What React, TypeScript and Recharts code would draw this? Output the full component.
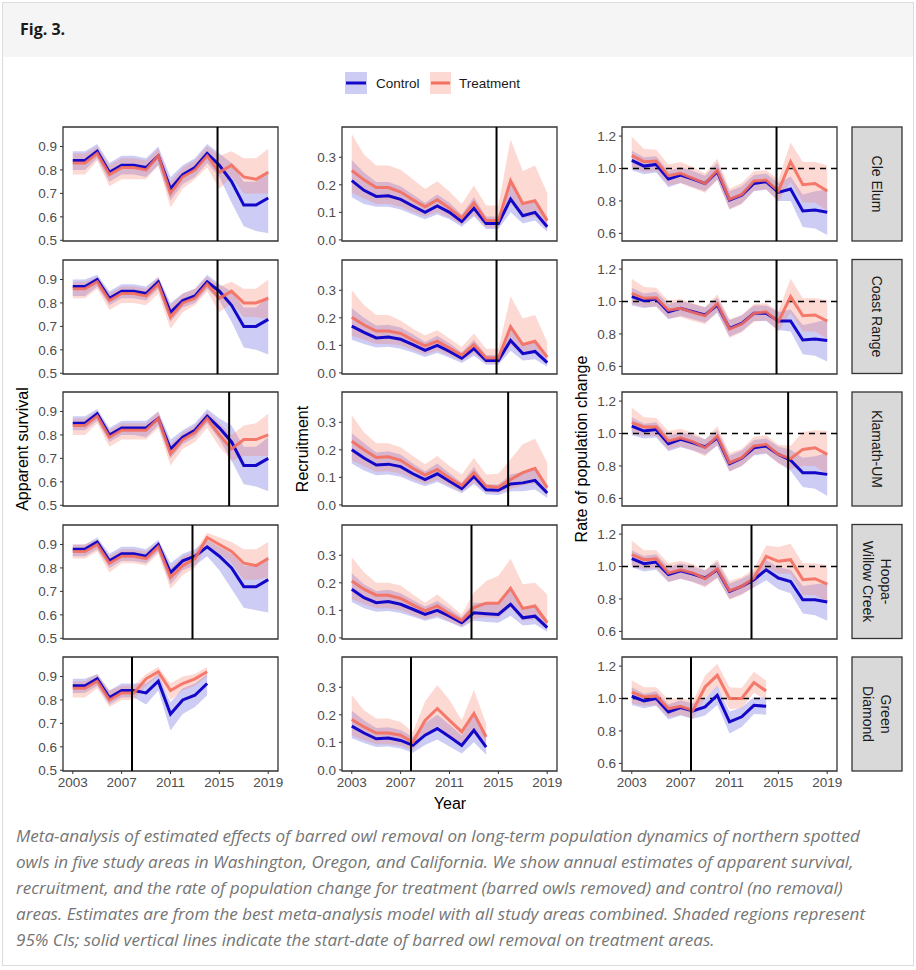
import React from 'react';
import { ComposedChart, Area, Line, XAxis, YAxis, ReferenceLine, ReferenceArea } from 'recharts';

// ---------- categories / labels ----------
const YEARS = [2003, 2004, 2005, 2006, 2007, 2008, 2009, 2010, 2011, 2012, 2013, 2014, 2015, 2016, 2017, 2018, 2019];
const X_TICKS = [2003, 2007, 2011, 2015, 2019];
const SITES = ['Cle Elum', 'Coast Range', 'Klamath-UM', 'Hoopa-\nWillow Creek', 'Green\nDiamond'];
const REMOVAL_START = [2014.85, 2014.85, 2015.8, 2012.8, 2007.85];
const METRIC_TITLES = ['Apparent survival', 'Recruitment', 'Rate of population change'];
const SURV_TICKS = [0.5, 0.6, 0.7, 0.8, 0.9];
const REC_TICKS = [0.0, 0.1, 0.2, 0.3];
const LAMBDA_TICKS = [0.6, 0.8, 1.0, 1.2];
const LEGEND_LABELS = ['Control', 'Treatment'];

// ---------- apparent survival ----------
const ceSurvC = [0.84, 0.84, 0.88, 0.79, 0.82, 0.82, 0.81, 0.86, 0.72, 0.78, 0.81, 0.87, 0.82, 0.75, 0.65, 0.65, 0.68];
const ceSurvCLo = [0.80, 0.80, 0.85, 0.75, 0.78, 0.78, 0.77, 0.82, 0.67, 0.74, 0.77, 0.83, 0.77, 0.66, 0.56, 0.54, 0.53];
const ceSurvCHi = [0.88, 0.88, 0.91, 0.83, 0.86, 0.86, 0.85, 0.90, 0.77, 0.82, 0.85, 0.91, 0.87, 0.83, 0.75, 0.75, 0.80];
const ceSurvT = [0.83, 0.83, 0.87, 0.78, 0.81, 0.81, 0.80, 0.86, 0.70, 0.77, 0.80, 0.86, 0.79, 0.82, 0.77, 0.76, 0.79];
const ceSurvTLo = [0.78, 0.78, 0.84, 0.73, 0.76, 0.76, 0.76, 0.82, 0.64, 0.72, 0.76, 0.81, 0.72, 0.77, 0.70, 0.70, 0.70];
const ceSurvTHi = [0.87, 0.87, 0.90, 0.82, 0.85, 0.85, 0.84, 0.89, 0.75, 0.81, 0.84, 0.90, 0.86, 0.88, 0.85, 0.85, 0.89];

const crSurvC = [0.87, 0.87, 0.90, 0.82, 0.85, 0.85, 0.84, 0.89, 0.76, 0.81, 0.83, 0.89, 0.85, 0.79, 0.70, 0.70, 0.73];
const crSurvCLo = [0.83, 0.83, 0.87, 0.79, 0.82, 0.82, 0.81, 0.86, 0.72, 0.78, 0.80, 0.86, 0.81, 0.72, 0.61, 0.60, 0.58];
const crSurvCHi = [0.90, 0.90, 0.92, 0.85, 0.88, 0.88, 0.87, 0.91, 0.80, 0.84, 0.86, 0.92, 0.88, 0.85, 0.78, 0.78, 0.83];
const crSurvT = [0.86, 0.86, 0.89, 0.81, 0.84, 0.84, 0.83, 0.88, 0.74, 0.80, 0.82, 0.88, 0.82, 0.85, 0.80, 0.80, 0.82];
const crSurvTLo = [0.82, 0.82, 0.86, 0.77, 0.80, 0.80, 0.79, 0.84, 0.69, 0.76, 0.79, 0.85, 0.76, 0.80, 0.74, 0.74, 0.73];
const crSurvTHi = [0.89, 0.89, 0.91, 0.84, 0.87, 0.87, 0.86, 0.91, 0.79, 0.84, 0.86, 0.91, 0.87, 0.89, 0.86, 0.86, 0.90];

const kmSurvC = [0.85, 0.85, 0.89, 0.80, 0.83, 0.83, 0.83, 0.87, 0.74, 0.79, 0.82, 0.88, 0.83, 0.77, 0.67, 0.67, 0.70];
const kmSurvCLo = [0.82, 0.82, 0.86, 0.77, 0.80, 0.80, 0.79, 0.84, 0.70, 0.76, 0.79, 0.85, 0.78, 0.69, 0.59, 0.58, 0.56];
const kmSurvCHi = [0.88, 0.88, 0.91, 0.83, 0.86, 0.86, 0.86, 0.90, 0.78, 0.82, 0.85, 0.91, 0.87, 0.84, 0.75, 0.75, 0.79];
const kmSurvT = [0.84, 0.84, 0.88, 0.79, 0.82, 0.82, 0.82, 0.87, 0.72, 0.78, 0.81, 0.87, 0.80, 0.74, 0.78, 0.78, 0.80];
const kmSurvTLo = [0.80, 0.80, 0.85, 0.75, 0.78, 0.78, 0.78, 0.83, 0.67, 0.74, 0.77, 0.83, 0.75, 0.69, 0.71, 0.71, 0.71];
const kmSurvTHi = [0.87, 0.87, 0.90, 0.82, 0.85, 0.85, 0.85, 0.90, 0.76, 0.81, 0.84, 0.90, 0.85, 0.80, 0.84, 0.85, 0.89];

const hwSurvC = [0.88, 0.88, 0.91, 0.83, 0.86, 0.86, 0.85, 0.90, 0.78, 0.83, 0.85, 0.89, 0.85, 0.80, 0.72, 0.72, 0.75];
const hwSurvCLo = [0.85, 0.85, 0.88, 0.80, 0.83, 0.83, 0.82, 0.87, 0.73, 0.79, 0.81, 0.85, 0.79, 0.71, 0.63, 0.62, 0.61];
const hwSurvCHi = [0.90, 0.90, 0.93, 0.86, 0.89, 0.89, 0.88, 0.92, 0.82, 0.86, 0.88, 0.92, 0.89, 0.86, 0.81, 0.81, 0.85];
const hwSurvT = [0.87, 0.87, 0.90, 0.82, 0.85, 0.85, 0.84, 0.89, 0.76, 0.81, 0.84, 0.93, 0.90, 0.87, 0.82, 0.81, 0.84];
const hwSurvTLo = [0.84, 0.84, 0.87, 0.78, 0.82, 0.82, 0.81, 0.86, 0.71, 0.77, 0.80, 0.90, 0.86, 0.82, 0.75, 0.75, 0.76];
const hwSurvTHi = [0.90, 0.90, 0.92, 0.85, 0.88, 0.88, 0.87, 0.91, 0.80, 0.85, 0.87, 0.95, 0.93, 0.91, 0.88, 0.88, 0.91];

const gdSurvC = [0.86, 0.86, 0.89, 0.81, 0.84, 0.84, 0.83, 0.88, 0.74, 0.80, 0.82, 0.87];
const gdSurvCLo = [0.83, 0.83, 0.86, 0.78, 0.81, 0.81, 0.78, 0.84, 0.67, 0.74, 0.77, 0.82];
const gdSurvCHi = [0.89, 0.89, 0.91, 0.84, 0.87, 0.87, 0.87, 0.91, 0.79, 0.85, 0.87, 0.91];
const gdSurvT = [0.85, 0.85, 0.88, 0.80, 0.83, 0.83, 0.89, 0.92, 0.84, 0.87, 0.89, 0.92];
const gdSurvTLo = [0.81, 0.81, 0.85, 0.77, 0.80, 0.80, 0.86, 0.90, 0.80, 0.84, 0.86, 0.90];
const gdSurvTHi = [0.88, 0.88, 0.91, 0.84, 0.86, 0.86, 0.91, 0.94, 0.87, 0.90, 0.91, 0.94];

// ---------- recruitment ----------
const ceRecC = [0.215, 0.18, 0.158, 0.16, 0.147, 0.123, 0.10, 0.123, 0.10, 0.067, 0.115, 0.06, 0.06, 0.148, 0.088, 0.10, 0.048];
const ceRecCLo = [0.155, 0.13, 0.12, 0.12, 0.11, 0.092, 0.075, 0.092, 0.075, 0.048, 0.085, 0.04, 0.04, 0.10, 0.06, 0.07, 0.03];
const ceRecCHi = [0.29, 0.245, 0.21, 0.21, 0.195, 0.165, 0.135, 0.165, 0.135, 0.092, 0.155, 0.085, 0.085, 0.22, 0.13, 0.145, 0.075];
const ceRecT = [0.252, 0.218, 0.19, 0.19, 0.174, 0.146, 0.12, 0.146, 0.115, 0.08, 0.134, 0.07, 0.07, 0.215, 0.132, 0.142, 0.07];
const ceRecTLo = [0.17, 0.15, 0.13, 0.13, 0.12, 0.10, 0.085, 0.10, 0.08, 0.055, 0.09, 0.045, 0.045, 0.135, 0.08, 0.085, 0.04];
const ceRecTHi = [0.385, 0.31, 0.27, 0.27, 0.255, 0.22, 0.185, 0.213, 0.176, 0.13, 0.198, 0.125, 0.125, 0.365, 0.25, 0.27, 0.17];

const crRecC = [0.17, 0.147, 0.127, 0.13, 0.122, 0.103, 0.082, 0.10, 0.078, 0.053, 0.088, 0.045, 0.045, 0.118, 0.07, 0.078, 0.037];
const crRecCLo = [0.12, 0.105, 0.092, 0.095, 0.088, 0.074, 0.058, 0.072, 0.055, 0.036, 0.062, 0.03, 0.03, 0.08, 0.045, 0.05, 0.022];
const crRecCHi = [0.235, 0.20, 0.172, 0.175, 0.165, 0.14, 0.112, 0.135, 0.108, 0.075, 0.12, 0.065, 0.065, 0.175, 0.105, 0.115, 0.06];
const crRecT = [0.202, 0.174, 0.152, 0.152, 0.143, 0.119, 0.098, 0.115, 0.09, 0.064, 0.103, 0.054, 0.054, 0.168, 0.103, 0.115, 0.057];
const crRecTLo = [0.135, 0.12, 0.105, 0.105, 0.10, 0.083, 0.068, 0.08, 0.062, 0.043, 0.07, 0.035, 0.035, 0.10, 0.065, 0.072, 0.032];
const crRecTHi = [0.30, 0.247, 0.21, 0.21, 0.19, 0.16, 0.137, 0.155, 0.125, 0.094, 0.143, 0.088, 0.088, 0.278, 0.198, 0.21, 0.112];

const kmRecC = [0.20, 0.17, 0.145, 0.148, 0.139, 0.113, 0.092, 0.113, 0.086, 0.059, 0.103, 0.055, 0.053, 0.076, 0.08, 0.089, 0.043];
const kmRecCLo = [0.15, 0.125, 0.108, 0.11, 0.102, 0.083, 0.068, 0.083, 0.062, 0.042, 0.075, 0.038, 0.036, 0.05, 0.05, 0.056, 0.025];
const kmRecCHi = [0.26, 0.225, 0.19, 0.195, 0.183, 0.15, 0.122, 0.15, 0.115, 0.08, 0.138, 0.075, 0.074, 0.11, 0.12, 0.135, 0.07];
const kmRecT = [0.231, 0.20, 0.172, 0.175, 0.162, 0.133, 0.108, 0.129, 0.098, 0.07, 0.117, 0.068, 0.064, 0.092, 0.117, 0.133, 0.062];
const kmRecTLo = [0.16, 0.14, 0.12, 0.122, 0.113, 0.093, 0.076, 0.09, 0.068, 0.048, 0.08, 0.046, 0.043, 0.058, 0.07, 0.078, 0.035];
const kmRecTHi = [0.326, 0.264, 0.224, 0.224, 0.209, 0.178, 0.148, 0.178, 0.141, 0.11, 0.17, 0.11, 0.113, 0.166, 0.22, 0.24, 0.154];

const hwRecC = [0.177, 0.146, 0.128, 0.132, 0.122, 0.104, 0.085, 0.10, 0.079, 0.055, 0.091, 0.088, 0.085, 0.122, 0.073, 0.079, 0.037];
const hwRecCLo = [0.13, 0.108, 0.095, 0.098, 0.09, 0.077, 0.062, 0.073, 0.057, 0.038, 0.062, 0.058, 0.055, 0.08, 0.045, 0.05, 0.022];
const hwRecCHi = [0.235, 0.195, 0.17, 0.175, 0.162, 0.138, 0.114, 0.134, 0.106, 0.075, 0.128, 0.128, 0.125, 0.18, 0.11, 0.118, 0.06];
const hwRecT = [0.207, 0.177, 0.155, 0.155, 0.143, 0.12, 0.098, 0.116, 0.088, 0.063, 0.11, 0.126, 0.126, 0.18, 0.107, 0.116, 0.055];
const hwRecTLo = [0.14, 0.122, 0.108, 0.108, 0.10, 0.083, 0.068, 0.08, 0.06, 0.042, 0.07, 0.075, 0.072, 0.11, 0.062, 0.068, 0.03];
const hwRecTHi = [0.293, 0.238, 0.20, 0.20, 0.19, 0.158, 0.128, 0.158, 0.122, 0.085, 0.165, 0.207, 0.226, 0.287, 0.195, 0.20, 0.158];

const gdRecC = [0.159, 0.134, 0.113, 0.116, 0.107, 0.089, 0.126, 0.15, 0.12, 0.089, 0.144, 0.083];
const gdRecCLo = [0.115, 0.098, 0.083, 0.085, 0.078, 0.062, 0.09, 0.11, 0.085, 0.06, 0.10, 0.055];
const gdRecCHi = [0.215, 0.18, 0.152, 0.155, 0.145, 0.12, 0.17, 0.20, 0.165, 0.125, 0.20, 0.12];
const gdRecT = [0.183, 0.156, 0.134, 0.134, 0.126, 0.101, 0.18, 0.223, 0.18, 0.138, 0.205, 0.12];
const gdRecTLo = [0.125, 0.108, 0.093, 0.093, 0.088, 0.07, 0.125, 0.16, 0.125, 0.095, 0.14, 0.08];
const gdRecTHi = [0.272, 0.217, 0.187, 0.187, 0.174, 0.138, 0.248, 0.308, 0.254, 0.18, 0.29, 0.168];

// ---------- rate of population change ----------
const ceLamC = [1.05, 1.015, 1.025, 0.935, 0.96, 0.935, 0.908, 0.98, 0.806, 0.836, 0.908, 0.919, 0.853, 0.873, 0.738, 0.744, 0.73];
const ceLamCLo = [0.99, 0.965, 0.975, 0.885, 0.91, 0.885, 0.86, 0.93, 0.75, 0.785, 0.86, 0.87, 0.80, 0.80, 0.64, 0.63, 0.59];
const ceLamCHi = [1.11, 1.07, 1.075, 0.985, 1.01, 0.985, 0.955, 1.035, 0.86, 0.89, 0.96, 0.97, 0.91, 0.95, 0.84, 0.86, 0.87];
const ceLamT = [1.079, 1.042, 1.046, 0.956, 0.97, 0.939, 0.908, 0.99, 0.81, 0.84, 0.923, 0.929, 0.861, 1.042, 0.90, 0.908, 0.861];
const ceLamTLo = [1.0, 0.98, 0.985, 0.895, 0.91, 0.88, 0.85, 0.93, 0.745, 0.78, 0.865, 0.87, 0.795, 0.92, 0.79, 0.79, 0.74];
const ceLamTHi = [1.196, 1.12, 1.115, 1.025, 1.04, 1.01, 0.97, 1.06, 0.875, 0.91, 0.985, 0.99, 0.93, 1.16, 1.04, 1.04, 1.02];

const crLamC = [1.03, 1.005, 1.015, 0.937, 0.958, 0.937, 0.917, 0.978, 0.834, 0.865, 0.927, 0.927, 0.88, 0.88, 0.763, 0.769, 0.76];
const crLamCLo = [0.975, 0.96, 0.97, 0.89, 0.91, 0.89, 0.87, 0.93, 0.785, 0.815, 0.88, 0.88, 0.825, 0.815, 0.675, 0.665, 0.63];
const crLamCHi = [1.085, 1.05, 1.06, 0.985, 1.005, 0.985, 0.965, 1.025, 0.885, 0.915, 0.975, 0.975, 0.935, 0.95, 0.855, 0.87, 0.89];
const crLamT = [1.05, 1.02, 1.023, 0.947, 0.958, 0.933, 0.912, 0.988, 0.83, 0.861, 0.927, 0.937, 0.876, 1.03, 0.912, 0.917, 0.88];
const crLamTLo = [0.985, 0.965, 0.97, 0.895, 0.905, 0.88, 0.86, 0.935, 0.775, 0.81, 0.875, 0.885, 0.815, 0.93, 0.815, 0.815, 0.77];
const crLamTHi = [1.14, 1.09, 1.085, 1.005, 1.015, 0.99, 0.965, 1.045, 0.89, 0.915, 0.985, 0.99, 0.94, 1.14, 1.02, 1.02, 1.01];

const kmLamC = [1.046, 1.015, 1.025, 0.937, 0.964, 0.943, 0.917, 0.974, 0.814, 0.847, 0.912, 0.923, 0.871, 0.835, 0.758, 0.758, 0.748];
const kmLamCLo = [0.99, 0.97, 0.975, 0.89, 0.915, 0.895, 0.87, 0.925, 0.765, 0.80, 0.865, 0.875, 0.82, 0.77, 0.67, 0.66, 0.615];
const kmLamCHi = [1.10, 1.06, 1.07, 0.985, 1.01, 0.99, 0.965, 1.02, 0.865, 0.895, 0.96, 0.97, 0.92, 0.90, 0.85, 0.86, 0.88];
const kmLamT = [1.067, 1.04, 1.042, 0.954, 0.974, 0.95, 0.912, 0.984, 0.82, 0.851, 0.923, 0.933, 0.871, 0.845, 0.902, 0.912, 0.871];
const kmLamTLo = [1.0, 0.985, 0.985, 0.9, 0.92, 0.895, 0.86, 0.93, 0.765, 0.80, 0.87, 0.88, 0.815, 0.78, 0.80, 0.80, 0.745];
const kmLamTHi = [1.16, 1.10, 1.095, 1.015, 1.03, 1.005, 0.965, 1.045, 0.88, 0.905, 0.98, 0.99, 0.93, 0.925, 1.01, 1.02, 1.015];

const hwLamC = [1.048, 1.017, 1.027, 0.95, 0.974, 0.954, 0.929, 0.98, 0.847, 0.878, 0.919, 0.98, 0.929, 0.908, 0.795, 0.795, 0.781];
const hwLamCLo = [0.995, 0.97, 0.98, 0.905, 0.925, 0.905, 0.88, 0.93, 0.80, 0.83, 0.87, 0.915, 0.86, 0.835, 0.71, 0.70, 0.665];
const hwLamCHi = [1.10, 1.065, 1.075, 0.995, 1.02, 1.0, 0.975, 1.03, 0.895, 0.925, 0.965, 1.04, 0.995, 0.98, 0.88, 0.89, 0.90];
const hwLamT = [1.073, 1.042, 1.048, 0.96, 0.98, 0.96, 0.925, 0.986, 0.851, 0.878, 0.929, 1.062, 1.032, 1.042, 0.919, 0.925, 0.892];
const hwLamTLo = [1.005, 0.985, 0.99, 0.905, 0.925, 0.905, 0.87, 0.93, 0.795, 0.825, 0.875, 0.995, 0.955, 0.955, 0.825, 0.825, 0.78];
const hwLamTHi = [1.16, 1.10, 1.10, 1.02, 1.035, 1.015, 0.98, 1.045, 0.91, 0.935, 0.985, 1.13, 1.12, 1.14, 1.02, 1.02, 1.01];

const gdLamC = [1.014, 0.985, 1.0, 0.917, 0.944, 0.923, 0.948, 1.02, 0.856, 0.887, 0.958, 0.952];
const gdLamCLo = [0.96, 0.94, 0.955, 0.87, 0.895, 0.875, 0.895, 0.96, 0.785, 0.825, 0.905, 0.90];
const gdLamCHi = [1.07, 1.03, 1.045, 0.965, 0.99, 0.97, 1.0, 1.08, 0.92, 0.945, 1.01, 1.005];
const gdLamT = [1.04, 1.01, 1.016, 0.938, 0.952, 0.927, 1.071, 1.143, 1.0, 1.0, 1.098, 1.046];
const gdLamTLo = [0.97, 0.955, 0.96, 0.885, 0.90, 0.875, 1.005, 1.075, 0.935, 0.94, 1.035, 0.99];
const gdLamTHi = [1.112, 1.07, 1.07, 0.995, 1.005, 0.985, 1.14, 1.214, 1.07, 1.065, 1.165, 1.11];

// ---------- build chart tables ----------
type Row = { year: number; c: number; cBand: [number, number]; t: number; tBand: [number, number] };
function table(c: number[], cLo: number[], cHi: number[], t: number[], tLo: number[], tHi: number[]): Row[] {
  return c.map((v, i) => ({ year: YEARS[i], c: v, cBand: [cLo[i], cHi[i]], t: t[i], tBand: [tLo[i], tHi[i]] }));
}

const PANEL_DATA: Row[][][] = [
  [
    table(ceSurvC, ceSurvCLo, ceSurvCHi, ceSurvT, ceSurvTLo, ceSurvTHi),
    table(ceRecC, ceRecCLo, ceRecCHi, ceRecT, ceRecTLo, ceRecTHi),
    table(ceLamC, ceLamCLo, ceLamCHi, ceLamT, ceLamTLo, ceLamTHi),
  ],
  [
    table(crSurvC, crSurvCLo, crSurvCHi, crSurvT, crSurvTLo, crSurvTHi),
    table(crRecC, crRecCLo, crRecCHi, crRecT, crRecTLo, crRecTHi),
    table(crLamC, crLamCLo, crLamCHi, crLamT, crLamTLo, crLamTHi),
  ],
  [
    table(kmSurvC, kmSurvCLo, kmSurvCHi, kmSurvT, kmSurvTLo, kmSurvTHi),
    table(kmRecC, kmRecCLo, kmRecCHi, kmRecT, kmRecTLo, kmRecTHi),
    table(kmLamC, kmLamCLo, kmLamCHi, kmLamT, kmLamTLo, kmLamTHi),
  ],
  [
    table(hwSurvC, hwSurvCLo, hwSurvCHi, hwSurvT, hwSurvTLo, hwSurvTHi),
    table(hwRecC, hwRecCLo, hwRecCHi, hwRecT, hwRecTLo, hwRecTHi),
    table(hwLamC, hwLamCLo, hwLamCHi, hwLamT, hwLamTLo, hwLamTHi),
  ],
  [
    table(gdSurvC, gdSurvCLo, gdSurvCHi, gdSurvT, gdSurvTLo, gdSurvTHi),
    table(gdRecC, gdRecCLo, gdRecCHi, gdRecT, gdRecTLo, gdRecTHi),
    table(gdLamC, gdLamCLo, gdLamCHi, gdLamT, gdLamTLo, gdLamTHi),
  ],
];

// ---------- layout & style ----------
const X_DOMAIN: [number, number] = [2002.2, 2019.8];
const Y_DOMAINS: [number, number][] = [[0.497, 0.983], [-0.004, 0.41], [0.553, 1.256]];
const Y_TICKS = [SURV_TICKS, REC_TICKS, LAMBDA_TICKS];
const COL_LEFT = [63, 342, 622];
const ROW_TOP = [127, 259.5, 392, 524.5, 657];
const PANEL_W = 215;
const PANEL_H = 114;
const YAXW = 44;
const PAD_T = 10;
const PAD_R = 22;
const PAD_B = 10;
const STRIP_X = 852;
const STRIP_W = 50;

const CONTROL_LINE = '#1408C8';
const CONTROL_FILL = '#0000CD';
const TREAT_LINE = '#F46E5E';
const TREAT_FILL = '#FA8072';
const TICK_COLOR = '#4d4d4d';
const FRAME = '#333333';
const SANS = '"Liberation Sans", Arial, Helvetica, sans-serif';

function Panel({ row, col }: { row: number; col: number }) {
  const bottom = row === 4;
  const xh = bottom ? 30 : 5;
  const pb = bottom ? 0 : PAD_B;
  const dom = Y_DOMAINS[col];
  return (
    <div style={{ position: 'absolute', left: COL_LEFT[col] - YAXW, top: ROW_TOP[row] - PAD_T }}>
      <ComposedChart
        width={PANEL_W + YAXW + PAD_R}
        height={PANEL_H + PAD_T + xh + pb}
        data={PANEL_DATA[row][col]}
        margin={{ top: PAD_T, right: PAD_R, bottom: pb, left: 0 }}
      >
        <XAxis
          type="number"
          dataKey="year"
          domain={X_DOMAIN}
          allowDataOverflow
          ticks={X_TICKS}
          interval={0}
          height={xh}
          tickSize={3}
          tickMargin={3}
          axisLine={false}
          tickLine={{ stroke: FRAME, strokeWidth: 1 }}
          tick={bottom ? { fill: TICK_COLOR, fontSize: 13.5, fontFamily: SANS } : false}
        />
        <YAxis
          type="number"
          domain={dom}
          allowDataOverflow
          ticks={Y_TICKS[col]}
          interval={0}
          width={YAXW}
          tickSize={3}
          tickMargin={3}
          axisLine={false}
          tickLine={{ stroke: FRAME, strokeWidth: 1 }}
          tick={{ fill: TICK_COLOR, fontSize: 13.5, fontFamily: SANS }}
          tickFormatter={(v: number) => v.toFixed(1)}
        />
        <Area dataKey="cBand" type="linear" stroke="none" fill={CONTROL_FILL} fillOpacity={0.2} isAnimationActive={false} activeDot={false} />
        <Area dataKey="tBand" type="linear" stroke="none" fill={TREAT_FILL} fillOpacity={0.3} isAnimationActive={false} activeDot={false} />
        {col === 2 && (
          <ReferenceLine y={1} stroke="#000" strokeWidth={1.6} strokeDasharray="6 5" ifOverflow="visible" />
        )}
        <Line dataKey="c" type="linear" stroke={CONTROL_LINE} strokeWidth={3} dot={false} activeDot={false} isAnimationActive={false} />
        <Line dataKey="t" type="linear" stroke={TREAT_LINE} strokeWidth={3} strokeOpacity={0.9} dot={false} activeDot={false} isAnimationActive={false} />
        <ReferenceLine x={REMOVAL_START[row]} stroke="#000" strokeWidth={2} ifOverflow="visible" />
        <ReferenceArea
          x1={X_DOMAIN[0]}
          x2={X_DOMAIN[1]}
          y1={dom[0]}
          y2={dom[1]}
          fill="none"
          fillOpacity={0}
          stroke={FRAME}
          strokeWidth={1.3}
          ifOverflow="visible"
        />
      </ComposedChart>
    </div>
  );
}

const CAPTION_LINES = [
  'Meta-analysis of estimated effects of barred owl removal on long-term population dynamics of northern spotted',
  'owls in five study areas in Washington, Oregon, and California. We show annual estimates of apparent survival,',
  'recruitment, and the rate of population change for treatment (barred owls removed) and control (no removal)',
  'areas. Estimates are from the best meta-analysis model with all study areas combined. Shaded regions represent',
  '95% CIs; solid vertical lines indicate the start-date of barred owl removal on treatment areas.',
];

export default function App() {
  const titleX = [22, 302, 581];
  const midY = (ROW_TOP[0] + ROW_TOP[4] + PANEL_H) / 2;
  return (
    <div style={{ position: 'absolute', left: 0, top: 0, width: 916, height: 970, background: '#fff', fontFamily: SANS }}>
      {/* outer frame + header */}
      <div style={{ position: 'absolute', left: 2, top: 2, width: 910, height: 962, border: '1px solid #dcdcdc' }} />
      <div style={{ position: 'absolute', left: 3, top: 3, width: 910, height: 54, background: '#f5f5f5' }} />
      <div
        style={{
          position: 'absolute',
          left: 20,
          top: 18,
          fontFamily: '"Open Sans", sans-serif',
          fontWeight: 700,
          fontSize: 16,
          color: '#1a1a1a',
          whiteSpace: 'nowrap',
        }}
      >
        Fig. 3.
      </div>

      {/* panels */}
      {ROW_TOP.map((_, r) => [0, 1, 2].map((c) => <Panel key={`${r}-${c}`} row={r} col={c} />))}

      {/* overlay: legend, titles, strips */}
      <svg width={916} height={970} style={{ position: 'absolute', left: 0, top: 0, pointerEvents: 'none' }}>
        {/* legend */}
        <rect x={345} y={72} width={22} height={22} fill={CONTROL_FILL} fillOpacity={0.2} />
        <line x1={346} x2={366} y1={83} y2={83} stroke={CONTROL_LINE} strokeWidth={3} />
        <text x={376} y={88} fontSize={13.5} fill="#1a1a1a" fontFamily={SANS}>{LEGEND_LABELS[0]}</text>
        <rect x={430} y={72} width={21} height={22} fill={TREAT_FILL} fillOpacity={0.3} />
        <line x1={431} x2={450} y1={83} y2={83} stroke={TREAT_LINE} strokeWidth={3} />
        <text x={459} y={88} fontSize={13.5} fill="#1a1a1a" fontFamily={SANS}>{LEGEND_LABELS[1]}</text>

        {/* y-axis titles */}
        {METRIC_TITLES.map((t, i) => (
          <text
            key={t}
            transform={`translate(${titleX[i]},${midY}) rotate(-90)`}
            textAnchor="middle"
            dy="0.35em"
            fontSize={16}
            fill="#000"
            fontFamily={SANS}
          >
            {t}
          </text>
        ))}
        {/* x-axis title */}
        <text x={450} y={809} textAnchor="middle" fontSize={16} fill="#000" fontFamily={SANS}>Year</text>

        {/* strips */}
        {SITES.map((s, r) => {
          const lines = s.split('\n');
          const cx = STRIP_X + STRIP_W / 2;
          const cy = ROW_TOP[r] + PANEL_H / 2;
          return (
            <g key={s}>
              <rect x={STRIP_X} y={ROW_TOP[r]} width={STRIP_W} height={PANEL_H} fill="#d9d9d9" stroke={FRAME} strokeWidth={1.3} />
              <text transform={`translate(${cx},${cy}) rotate(90)`} textAnchor="middle" fontSize={14} fill="#1a1a1a" fontFamily={SANS}>
                {lines.length === 1 ? (
                  <tspan x={0} dy="0.35em">{lines[0]}</tspan>
                ) : (
                  <>
                    <tspan x={0} dy="-0.27em">{lines[0]}</tspan>
                    <tspan x={0} dy="1.25em">{lines[1]}</tspan>
                  </>
                )}
              </text>
            </g>
          );
        })}
      </svg>

      {/* caption */}
      <div
        style={{
          position: 'absolute',
          left: 16,
          top: 823,
          fontFamily: '"Open Sans", sans-serif',
          fontStyle: 'italic',
          fontSize: 17.1,
          lineHeight: '26px',
          color: '#757575',
        }}
      >
        {CAPTION_LINES.map((l) => (
          <div key={l} style={{ whiteSpace: 'nowrap' }}>{l}</div>
        ))}
      </div>
    </div>
  );
}
